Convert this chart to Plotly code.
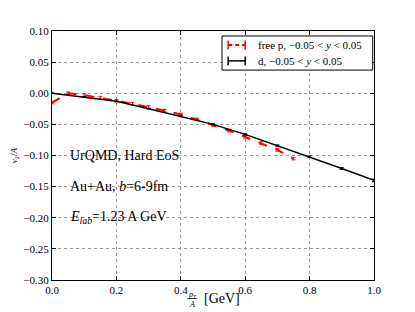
import plotly.graph_objects as go

# free protons
p_x = [0.0, 0.05, 0.1, 0.15, 0.2, 0.25, 0.3, 0.35, 0.4, 0.45, 0.5, 0.55, 0.6, 0.65, 0.7, 0.75]
p_v2 = [-0.015, 0.000, -0.003, -0.007, -0.012, -0.017, -0.022, -0.028, -0.034, -0.042,
        -0.051, -0.060, -0.070, -0.080, -0.091, -0.105]
p_err = [0.002] * len(p_x)

# deuterons
d_x = [0.0, 0.1, 0.2, 0.3, 0.4, 0.5, 0.6, 0.7, 0.8, 0.9, 1.0]
d_v2 = [0.000, -0.006, -0.013, -0.025, -0.037, -0.050, -0.066, -0.084, -0.102, -0.121, -0.140]
d_err = [0.0005, 0.0005, 0.0005, 0.0005, 0.0005, 0.0005, 0.0008, 0.001, 0.0012, 0.0015, 0.002]

x_ticks = [0.0, 0.2, 0.4, 0.6, 0.8, 1.0]
y_ticks = [0.10, 0.05, 0.00, -0.05, -0.10, -0.15, -0.20, -0.25, -0.30]

p_label = "free p, \u22120.05 < <i>y</i> < 0.05"
d_label = "d, \u22120.05 < <i>y</i> < 0.05"

font_family = "Liberation Serif"

fig = go.Figure()
fig.add_trace(go.Scatter(
    x=p_x, y=p_v2, mode="lines", name=p_label, showlegend=False,
    line=dict(color="#ff0000", width=2, dash="dash"),
    error_y=dict(type="data", array=p_err, color="#ff0000", thickness=1, width=2),
))
fig.add_trace(go.Scatter(
    x=d_x, y=d_v2, mode="lines", name=d_label, showlegend=False,
    line=dict(color="black", width=1.5),
    error_y=dict(type="data", array=d_err, color="black", thickness=1, width=2),
))

axis_common = dict(
    showline=True, linecolor="black", linewidth=1, mirror="ticks",
    ticks="inside", ticklen=4, tickcolor="black",
    showgrid=True, gridcolor="#9a9a9a", griddash="dot", gridwidth=1,
    zeroline=False,
    tickfont=dict(family=font_family, size=11, color="black"),
)

fig.update_xaxes(range=[0, 1.0], tickvals=x_ticks, tickformat=".1f", **axis_common)
fig.update_yaxes(range=[-0.30, 0.10], tickvals=y_ticks, tickformat=".2f", **axis_common)

fig.update_layout(
    width=407, height=304,
    margin=dict(l=44, r=41, t=23, b=32),
    paper_bgcolor="white", plot_bgcolor="white",
    font=dict(family=font_family, color="black"),
    showlegend=False,
)

# custom legend (box, errorbar-style samples, labels)
fig.add_shape(type="rect", xref="paper", yref="paper", x0=0.528, x1=0.996, y0=0.843, y1=0.98,
              line=dict(color="black", width=1), fillcolor="white", layer="above")
for yy, col, dash, w in [(0.944, "#ff0000", "dash", 2), (0.88, "black", "solid", 1.5)]:
    fig.add_shape(type="line", xref="paper", yref="paper", x0=0.547, x1=0.600, y0=yy, y1=yy,
                  line=dict(color=col, width=w, dash=dash if dash == "solid" else "4px,3px"), layer="above")
    for xx in (0.547, 0.600):
        fig.add_shape(type="line", xref="paper", yref="paper", x0=xx, x1=xx, y0=yy - 0.018, y1=yy + 0.018,
                      line=dict(color=col, width=1.5), layer="above")
fig.add_annotation(x=0.634, y=0.944, xref="paper", yref="paper", text=p_label, showarrow=False,
                   xanchor="left", yanchor="middle", font=dict(family=font_family, size=11))
fig.add_annotation(x=0.634, y=0.88, xref="paper", yref="paper", text=d_label, showarrow=False,
                   xanchor="left", yanchor="middle", font=dict(family=font_family, size=11))

# text annotations inside plot
ann_font = dict(family=font_family, size=14, color="black")
fig.add_annotation(x=0.05, y=-0.10, xref="x", yref="y", text="UrQMD, Hard EoS",
                   showarrow=False, xanchor="left", yanchor="middle", font=ann_font)
fig.add_annotation(x=0.05, y=-0.15, xref="x", yref="y", text="Au+Au, <i>b</i>=6-9fm",
                   showarrow=False, xanchor="left", yanchor="middle", font=ann_font)
fig.add_annotation(x=0.05, y=-0.20, xref="x", yref="y", text="<i>E<sub>lab</sub></i>=1.23 A GeV",
                   showarrow=False, xanchor="left", yanchor="middle", font=ann_font)

# y axis label (fraction v2 / A, rotated)
fig.add_annotation(x=-0.116, y=0.5, xref="paper", yref="paper", xanchor="center",
                   text="<i>v</i><sub>2</sub>/<i>A</i>", textangle=-90,
                   showarrow=False, font=dict(family=font_family, size=9))

# x axis label (fraction pT / A, stacked in one text)
fig.add_annotation(x=0.436, y=-0.077, xref="paper", yref="paper",
                   text="<i>p<sub>T</sub></i><br><i>A</i>", showarrow=False,
                   xanchor="center", yanchor="middle", borderpad=0,
                   font=dict(family=font_family, size=8))
fig.add_shape(type="line", xref="paper", yref="paper", x0=0.421, x1=0.451,
              y0=-0.0745, y1=-0.0745, line=dict(color="black", width=0.8))
fig.add_annotation(x=0.468, y=-0.076, xref="paper", yref="paper",
                   text="[GeV]", showarrow=False, xanchor="left", yanchor="middle",
                   borderpad=0, font=dict(family=font_family, size=14))

fig.write_html("out.html")
